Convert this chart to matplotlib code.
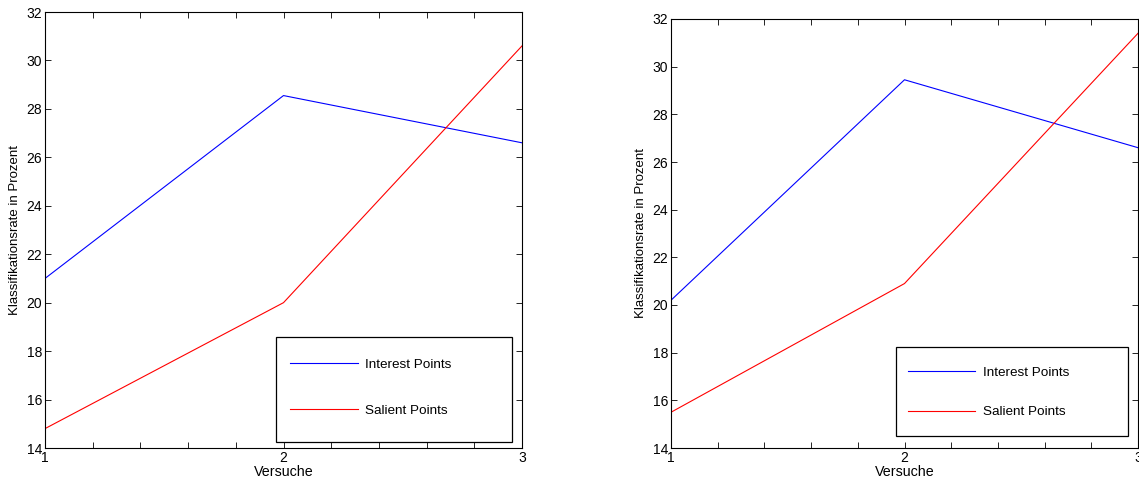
import numpy as np
import matplotlib.pyplot as plt
from matplotlib.ticker import MultipleLocator
from matplotlib.patches import Rectangle

plt.rcParams['font.family'] = ['Liberation Sans', 'DejaVu Sans']

# Data
versuche = [1, 2, 3]
interest_left = [21.0, 28.55, 26.6]
salient_left = [14.8, 20.0, 30.6]
interest_right = [20.2, 29.45, 26.6]
salient_right = [15.5, 20.9, 31.4]

fig = plt.figure(figsize=(11.39, 4.83), dpi=100)

ax1 = fig.add_axes([45 / 1139, 35 / 483, 477 / 1139, 436 / 483])
ax2 = fig.add_axes([671 / 1139, 35 / 483, 467 / 1139, 429 / 483])

# axis, data, legend frame (axes coords), legend anchor, label spacing
panels = [
    (ax1, interest_left, salient_left, (0.484, 0.0138, 0.495, 0.241), (0.514, 0.206), 2.5),
    (ax2, interest_right, salient_right, (0.482, 0.028, 0.497, 0.2075), (0.5075, 0.19), 2.0),
]

for ax, interest, salient, box, anchor, spacing in panels:
    ax.plot(versuche, interest, color='#0000ff', lw=0.8, label='Interest Points')
    ax.plot(versuche, salient, color='#ff0000', lw=0.8, label='Salient Points')
    ax.set_xlim(1, 3)
    ax.set_ylim(14, 32)
    ax.set_xticks([1, 2, 3])
    ax.xaxis.set_minor_locator(MultipleLocator(0.2))
    ax.yaxis.set_major_locator(MultipleLocator(2))
    ax.tick_params(which='both', direction='in', top=True, right=True,
                   labelsize=10, width=0.6, pad=2)
    ax.tick_params(which='major', length=4)
    ax.tick_params(which='minor', length=4)
    for s in ax.spines.values():
        s.set_linewidth(0.8)
    ax.set_xlabel('Versuche', fontsize=10.3, labelpad=0)
    ax.set_ylabel('Klassifikationsrate in Prozent', fontsize=9.5, labelpad=4)
    ax.legend(loc='upper left', bbox_to_anchor=anchor, fontsize=9.7,
              handlelength=5.0, handletextpad=0.55, labelspacing=spacing,
              borderpad=0, borderaxespad=0, frameon=False)
    ax.add_patch(Rectangle(box[:2], box[2], box[3], transform=ax.transAxes,
                           fill=False, edgecolor='black', lw=0.9, zorder=5))

plt.savefig('out.png', dpi=100)
